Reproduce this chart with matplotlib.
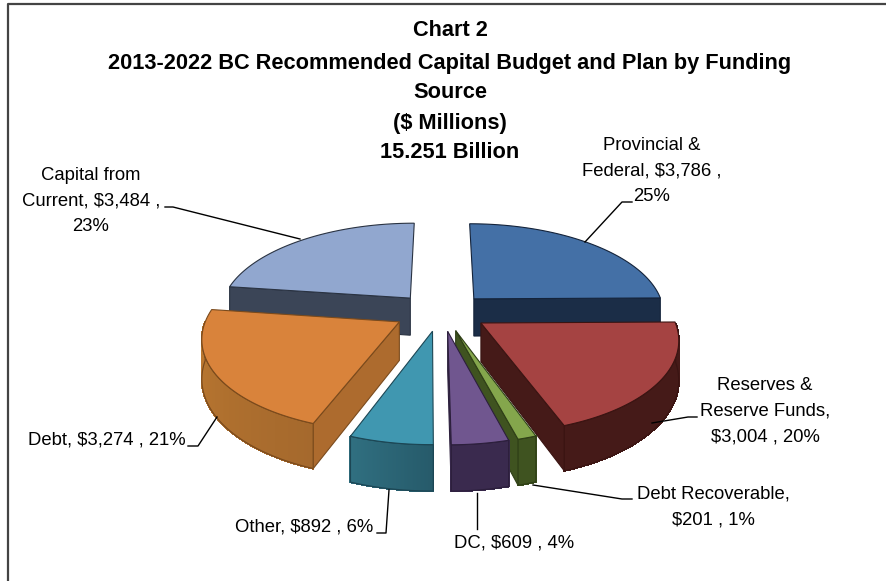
import numpy as np
import matplotlib
matplotlib.use("Agg")
import matplotlib.pyplot as plt
from matplotlib.colors import to_rgb

# funding sources, clockwise from 12 o'clock
sources = ["Provincial & Federal", "Reserves & Reserve Funds", "Debt Recoverable", "DC", "Other", "Debt", "Capital from Current"]
amounts = [3786, 3004, 201, 609, 892, 3274, 3484]
label_texts = [
    "Provincial &\nFederal, $3,786 ,\n25%",
    "Reserves &\nReserve Funds,\n$3,004 , 20%",
    "Debt Recoverable,\n$201 , 1%",
    "DC, $609 , 4%",
    "Other, $892 , 6%",
    "Debt, $3,274 , 21%",
    "Capital from\nCurrent, $3,484 ,\n23%",
]
title_lines = ["Chart 2", "2013-2022 BC Recommended Capital Budget and Plan by Funding", "Source", "($ Millions)", "15.251 Billion"]

top_colors = ["#4470a6", "#a54342", "#84a64c", "#70568f", "#4097b0", "#d9833b", "#91a7cf"]
wall_colors = ["#1b2d47", "#451a18", "#3f5320", "#3a2a4e", "#2a6273", "#ad6b2e", "#3b4557"]
# outer wall shading runs from the first colour (right end) to the second (left end)
curve_colors = [("#1b2d47", "#1b2d47"), ("#451a18", "#451a18"), ("#3f5320", "#3f5320"), ("#3a2a4e", "#3a2a4e"),
                ("#265a6a", "#306f80"), ("#a5692d", "#bb7830"), ("#3b4557", "#3b4557")]
edge_colors = ["#14233a", "#3a1412", "#2e3e16", "#2c1f3c", "#1c4654", "#7a4a1c", "#2a3342"]

# pie projection settings, in pixels
CX, CY = 441, 312
RX, RY = 191, 90
PERSP = 0.15
HEIGHT = 38
EXPLODE_X, EXPLODE_Y = 0.25, 0.21
FONT = "Liberation Sans"

plt.rcParams["font.family"] = FONT


def project(x, y, drop=0.0):
    # y is toward the viewer, nearer points get bigger
    s = 1.0 / (1.0 - PERSP * y)
    return CX + RX * x * s, CY + RY * y * s + HEIGHT * drop * s


fig = plt.figure(figsize=(8.87, 5.81), dpi=100)
ax = fig.add_axes([0, 0, 1, 1])
ax.set_xlim(0, 887)
ax.set_ylim(581, 0)
ax.axis("off")

# chart frame
ax.plot([8, 8, 887], [581, 4, 4], color="#444444", lw=1.6, solid_capstyle="butt")

fractions = np.array(amounts) / sum(amounts)
ends = np.cumsum(fractions) * 2 * np.pi
starts = ends - fractions * 2 * np.pi
mids = (starts + ends) / 2

# far slices first so nearer ones paint over them
order = list(np.argsort(-np.cos(mids)))
for i in order:
    off_x = EXPLODE_X * np.sin(mids[i])
    off_y = -EXPLODE_Y * np.cos(mids[i])
    t = np.linspace(starts[i], ends[i], 80)
    arc_x = off_x + np.sin(t)
    arc_y = off_y - np.cos(t)

    z = 10 + 2 * order.index(i)
    style = dict(facecolor=wall_colors[i], edgecolor=edge_colors[i], lw=0.8, zorder=z)

    # radial walls, only the ones turned toward the viewer
    walls = []
    if np.sin(starts[i]) < -1e-6:
        walls.append((arc_x[0], arc_y[0]))
    if np.sin(ends[i]) > 1e-6:
        walls.append((arc_x[-1], arc_y[-1]))
    for ex, ey in walls:
        p = [project(off_x, off_y), project(ex, ey), project(ex, ey, 1), project(off_x, off_y, 1)]
        ax.fill([q[0] for q in p], [q[1] for q in p], **style)

    # outer curved wall, front half of the circle only
    front = np.cos(t) < 0
    if front.sum() > 1:
        tx, ty = project(arc_x[front], arc_y[front])
        bx, by = project(arc_x[front], arc_y[front], 1.0)
        c0, c1 = np.array(to_rgb(curve_colors[i][0])), np.array(to_rgb(curve_colors[i][1]))
        n = len(tx) - 1
        for j in range(n):
            c = c0 + (c1 - c0) * j / max(n - 1, 1)
            ax.fill([tx[j], tx[j + 1], bx[j + 1], bx[j]], [ty[j], ty[j + 1], by[j + 1], by[j]],
                    facecolor=c, edgecolor=c, lw=0.8, antialiased=False, zorder=z)
        ax.fill(np.r_[tx, bx[::-1]], np.r_[ty, by[::-1]], facecolor="none",
                edgecolor=edge_colors[i], lw=0.9, zorder=z)

    # top face
    arc_px, arc_py = project(arc_x, arc_y)
    apex = project(off_x, off_y)
    ax.fill(np.r_[apex[0], arc_px], np.r_[apex[1], arc_py], facecolor=top_colors[i],
            edgecolor=edge_colors[i], lw=0.8, zorder=z + 1)

# title
for line, y in zip(title_lines, [30, 63, 92, 123, 153]):
    ax.text(450, y, line, ha="center", va="center", fontsize=15.7, fontweight="bold", color="black")

# data labels with leader lines
label_pos = [(652, 171), (765, 411), (713, 507), (514, 543), (304, 527), (107, 440), (91, 201)]
leaders = [
    [(632, 202), (622, 202), (585, 242)],
    [(697, 417), (688, 417), (652, 423)],
    [(632, 499), (622, 499), (533, 485)],
    [(477, 529), (477, 493)],
    [(377, 533), (386, 533), (389, 490)],
    [(188, 446), (198, 446), (217, 417)],
    [(165, 207), (173, 207), (300, 239)],
]
for text, (x, y), pts in zip(label_texts, label_pos, leaders):
    ax.text(x, y, text, ha="center", va="center", fontsize=13.3, color="black", linespacing=1.66, zorder=50)
    ax.plot([p[0] for p in pts], [p[1] for p in pts], color="black", lw=1.0, zorder=40)

fig.savefig("out.png", dpi=100)
